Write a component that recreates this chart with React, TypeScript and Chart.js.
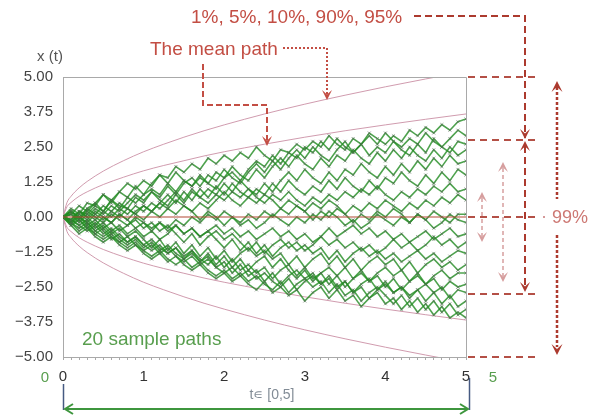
import React, { useEffect, useRef } from "react";
import { Chart, registerables } from "chart.js";

Chart.register(...registerables);

// ---------- data ----------
const TIMES = [
  0, 0.1, 0.2, 0.3, 0.4, 0.5, 0.6, 0.7, 0.8, 0.9, 1.0,
  1.1, 1.2, 1.3, 1.4, 1.5, 1.6, 1.7, 1.8, 1.9, 2.0,
  2.1, 2.2, 2.3, 2.4, 2.5, 2.6, 2.7, 2.8, 2.9, 3.0,
  3.1, 3.2, 3.3, 3.4, 3.5, 3.6, 3.7, 3.8, 3.9, 4.0,
  4.1, 4.2, 4.3, 4.4, 4.5, 4.6, 4.7, 4.8, 4.9, 5.0,
];

const PATH_01 = [0, .3, .1, .5, .4, .8, .6, .9, 1.2, 1.0, 1.3, 1.1, 1.5, 1.4, 1.8, 1.6, 1.9, 1.7, 2.1, 1.9, 2.2, 2.0, 2.3, 2.1, 2.5, 2.2, 2.0, 2.4, 2.3, 2.6, 2.4, 2.7, 2.5, 2.9, 2.6, 2.4, 2.8, 2.6, 3.0, 2.8, 2.6, 2.9, 2.7, 3.1, 2.9, 3.2, 3.0, 3.3, 3.1, 3.4, 3.5];
const PATH_02 = [0, -.2, .2, .1, .4, .2, .6, .3, .7, .5, .8, 1.0, .8, 1.2, .9, 1.3, 1.1, 1.5, 1.2, 1.0, 1.4, 1.6, 1.3, 1.7, 2.0, 1.8, 2.2, 1.9, 2.3, 2.1, 2.5, 2.3, 2.7, 2.4, 2.8, 2.5, 2.3, 2.6, 2.9, 2.6, 3.0, 2.7, 2.5, 2.8, 2.6, 3.0, 2.7, 2.5, 2.8, 3.1, 2.9];
const PATH_03 = [0, .2, -.1, .3, .5, .2, .6, .4, .3, .7, .5, .9, .7, 1.1, .8, 1.2, 1.4, 1.1, 1.5, 1.3, 1.7, 1.4, 1.2, 1.6, 1.9, 1.6, 2.0, 1.7, 2.1, 2.4, 2.1, 2.5, 2.2, 2.0, 2.4, 2.7, 2.3, 2.6, 2.2, 2.5, 2.3, 2.7, 2.4, 2.2, 2.6, 2.3, 2.8, 2.5, 2.3, 2.7, 2.6];
const PATH_04 = [0, .1, .4, .2, .5, .8, .5, .9, .7, 1.1, .8, 1.2, 1.5, 1.2, 1.6, 1.3, 1.1, 1.4, 1.2, 1.6, 1.4, 1.8, 1.5, 1.3, 1.7, 1.4, 1.8, 2.1, 1.8, 2.2, 1.9, 1.7, 2.1, 1.8, 2.2, 2.0, 2.4, 2.1, 1.9, 2.3, 2.0, 2.4, 2.1, 2.5, 2.2, 2.0, 2.4, 2.1, 2.5, 2.2, 2.4];
const PATH_05 = [0, -.1, .2, 0, .3, .1, .4, .2, .5, .8, .6, .9, .6, .4, .8, .5, .9, .7, 1.0, .8, 1.2, .9, 1.3, 1.0, .8, 1.2, .9, 1.3, 1.6, 1.3, 1.7, 1.4, 1.2, 1.6, 1.3, 1.7, 1.5, 1.9, 1.6, 1.4, 1.8, 1.5, 1.9, 1.6, 2.0, 1.7, 2.1, 1.8, 2.2, 1.9, 2.0];
const PATH_06 = [0, .2, 0, .3, .1, .4, .2, .5, .3, .1, .4, .2, .5, .8, .5, .9, .6, 1.0, .7, 1.1, .8, 1.2, .9, .7, 1.0, .8, 1.2, .9, 1.3, 1.0, .8, 1.1, .9, 1.3, 1.0, 1.4, 1.1, .9, 1.3, 1.0, 1.4, 1.2, 1.6, 1.3, 1.1, 1.5, 1.2, 1.6, 1.3, 1.7, 1.5];
const PATH_07 = [0, .1, -.2, .1, -.1, .2, 0, .3, .1, .4, .2, .5, .3, .6, .9, .6, 1.0, .7, .5, .8, .6, .9, .7, 1.0, .7, .5, .8, .6, .9, .6, .4, .7, .5, .8, .6, .9, .7, 1.0, .8, 1.1, .8, .6, .9, .7, 1.0, .8, 1.1, .9, 1.2, .9, 1.0];
const PATH_08 = [0, -.2, .1, -.1, .2, 0, -.2, .1, -.1, .2, .4, .2, .5, .3, .6, .4, .2, .5, .3, .6, .9, .6, .4, .7, .5, .8, .6, .3, .6, .4, .2, .5, .3, .6, .4, .1, .4, .2, .5, .3, .6, .4, .2, .5, .3, .6, .4, .7, .5, .8, .6];
const PATH_09 = [0, .2, 0, -.2, .1, -.1, .2, 0, .3, .1, -.1, .2, 0, .3, .1, .4, .2, -.1, .2, 0, -.3, 0, -.2, .1, -.1, .2, 0, .3, .1, .4, .2, -.1, .2, 0, .3, .1, -.2, .1, -.1, .2, 0, .3, .1, -.2, .1, -.1, .2, 0, -.2, .1, .1];
const PATH_10 = [0, -.1, .2, 0, -.3, 0, -.2, .1, -.1, -.4, -.2, -.5, -.2, -.4, -.1, -.3, 0, -.2, .1, -.1, .2, 0, -.3, -.1, -.4, -.2, .1, -.1, -.3, 0, -.2, .1, -.1, .2, 0, -.3, -.1, -.4, -.2, .1, -.1, -.3, 0, -.2, .1, -.1, -.4, -.2, .1, -.1, -.2];
const PATH_11 = [0, .1, -.1, .2, 0, -.2, .1, -.1, -.3, 0, -.2, -.4, -.2, -.5, -.3, -.6, -.4, -.7, -.5, -.3, -.6, -.4, -.7, -.5, -.8, -.6, -.4, -.7, -.5, -.8, -.6, -.9, -.7, -.4, -.7, -.5, -.3, -.6, -.4, -.7, -.5, -.8, -.6, -.9, -.7, -.5, -.8, -.6, -.4, -.7, -.6];
const PATH_12 = [0, -.2, 0, -.3, -.1, -.4, -.2, -.5, -.3, -.1, -.4, -.2, -.5, -.3, -.6, -.9, -.6, -1.0, -.7, -.5, -.8, -.6, -.9, -1.2, -.9, -1.3, -1.0, -.8, -1.1, -.9, -1.2, -1.0, -.7, -1.0, -.8, -1.1, -.9, -1.2, -1.0, -1.3, -1.1, -.8, -1.1, -.9, -1.2, -1.0, -.7, -1.0, -.8, -1.1, -.9];
const PATH_13 = [0, -.1, -.3, -.1, -.4, -.2, -.5, -.3, -.6, -.4, -.7, -.5, -.8, -.6, -.3, -.6, -.4, -.7, -.5, -.8, -1.1, -.8, -1.2, -.9, -1.3, -1.0, -1.4, -1.1, -.9, -1.2, -1.0, -1.3, -1.1, -1.5, -1.2, -1.6, -1.3, -1.1, -1.4, -1.2, -1.5, -1.3, -1.6, -1.4, -1.2, -1.5, -1.3, -1.6, -1.4, -1.2, -1.3];
const PATH_14 = [0, .2, 0, -.2, -.5, -.3, -.6, -.4, -.7, -.5, -.8, -1.1, -.8, -1.2, -.9, -1.3, -1.0, -1.4, -1.1, -1.5, -1.2, -1.6, -1.3, -1.1, -1.4, -1.2, -1.5, -1.3, -1.7, -1.4, -1.8, -1.5, -1.3, -1.7, -1.4, -1.8, -1.5, -1.9, -1.6, -1.4, -1.7, -1.5, -1.9, -1.6, -2.0, -1.7, -1.5, -1.8, -1.6, -1.9, -1.7];
const PATH_15 = [0, -.2, -.4, -.2, -.5, -.7, -.5, -.8, -1.0, -.8, -1.1, -.9, -1.2, -1.0, -1.3, -1.5, -1.2, -1.6, -1.3, -1.7, -1.4, -1.8, -1.5, -1.9, -1.6, -1.4, -1.8, -1.5, -1.9, -2.2, -1.9, -2.3, -2.0, -1.8, -2.1, -1.8, -2.2, -1.9, -2.3, -2.0, -1.8, -2.1, -1.9, -2.3, -2.0, -2.4, -2.1, -1.9, -2.2, -2.0, -2.0];
const PATH_16 = [0, -.1, -.3, -.5, -.3, -.6, -.4, -.7, -.9, -.7, -1.0, -.8, -1.1, -1.3, -1.1, -1.4, -1.2, -1.5, -1.7, -1.4, -1.8, -1.5, -1.9, -1.7, -2.0, -1.8, -2.2, -1.9, -1.7, -2.1, -1.8, -2.2, -2.0, -2.4, -2.1, -2.5, -2.2, -2.0, -2.3, -2.1, -2.5, -2.2, -2.6, -2.3, -2.1, -2.4, -2.2, -2.6, -2.3, -2.5, -2.4];
const PATH_17 = [0, -.2, -.1, -.4, -.2, -.5, -.8, -.6, -.9, -.7, -1.0, -1.2, -1.0, -1.3, -1.1, -1.5, -1.3, -1.6, -1.4, -1.8, -1.6, -2.0, -1.7, -2.1, -1.9, -2.3, -2.0, -2.4, -2.1, -1.9, -2.2, -2.0, -2.4, -2.1, -2.5, -2.3, -2.7, -2.4, -2.2, -2.6, -2.3, -2.7, -2.5, -2.8, -2.6, -2.4, -2.7, -2.5, -2.9, -2.6, -2.7];
const PATH_18 = [0, -.3, -.1, -.4, -.6, -.4, -.7, -.9, -.7, -1.0, -1.2, -1.0, -1.3, -1.1, -1.4, -1.6, -1.4, -1.7, -1.5, -1.8, -2.0, -1.8, -2.1, -1.9, -2.2, -2.0, -2.3, -2.5, -2.2, -2.6, -2.3, -2.1, -2.4, -2.2, -2.6, -2.3, -2.7, -2.5, -2.9, -2.6, -2.4, -2.7, -2.5, -2.9, -2.6, -3.0, -2.7, -3.1, -2.8, -3.2, -3.0];
const PATH_19 = [0, -.2, -.5, -.3, -.6, -.8, -.6, -.9, -1.1, -.9, -1.2, -1.4, -1.2, -1.5, -1.7, -1.5, -1.8, -1.6, -1.9, -2.1, -1.9, -2.2, -2.0, -2.3, -2.1, -2.4, -2.6, -2.3, -2.7, -2.4, -2.2, -2.5, -2.3, -2.7, -2.4, -2.8, -2.6, -3.0, -2.7, -2.5, -2.8, -3.1, -2.8, -3.2, -2.9, -3.3, -3.0, -3.4, -3.1, -3.5, -3.3];
const PATH_20 = [0, -.3, -.6, -.4, -.7, -.9, -.7, -1.0, -1.2, -1.0, -1.3, -1.5, -1.3, -1.6, -1.4, -1.7, -1.9, -1.7, -2.0, -2.2, -2.0, -2.3, -2.1, -2.4, -2.6, -2.3, -2.7, -2.5, -2.8, -2.6, -3.0, -2.7, -2.5, -2.9, -2.6, -3.0, -2.8, -3.2, -2.9, -2.7, -3.1, -2.9, -3.3, -3.0, -3.4, -3.1, -3.5, -3.2, -3.6, -3.4, -3.6];

const SAMPLE_PATHS = [
  PATH_01, PATH_02, PATH_03, PATH_04, PATH_05, PATH_06, PATH_07, PATH_08, PATH_09, PATH_10,
  PATH_11, PATH_12, PATH_13, PATH_14, PATH_15, PATH_16, PATH_17, PATH_18, PATH_19, PATH_20,
];

// percentile envelopes (outer = 1%/99%, inner = 5%/95%)
const CURVE_T = [0, 0.05, 0.1, 0.2, 0.3, 0.5, 0.75, 1, 1.25, 1.5, 1.75, 2, 2.5, 3, 3.5, 4, 4.5, 5];
const Q99 = [0, 0.52, 0.74, 1.04, 1.27, 1.64, 2.01, 2.33, 2.60, 2.85, 3.08, 3.29, 3.68, 4.03, 4.35, 4.65, 4.93, 5.20];
const Q95 = [0, 0.37, 0.52, 0.74, 0.90, 1.16, 1.42, 1.65, 1.84, 2.01, 2.18, 2.33, 2.60, 2.85, 3.08, 3.29, 3.49, 3.68];
const Q05 = [0, -0.37, -0.52, -0.74, -0.90, -1.16, -1.42, -1.65, -1.84, -2.01, -2.18, -2.33, -2.60, -2.85, -3.08, -3.29, -3.49, -3.68];
const Q01 = [0, -0.52, -0.74, -1.04, -1.27, -1.64, -2.01, -2.33, -2.60, -2.85, -3.08, -3.29, -3.68, -4.03, -4.35, -4.65, -4.93, -5.20];

const MEAN_T = [0, 5];
const MEAN_X = [0, 0];

const Y_TICKS = [-5, -3.75, -2.5, -1.25, 0, 1.25, 2.5, 3.75, 5];
// reference levels marked by dashed guides on the right
const GUIDE_LEVELS = [5, 2.75, 0, -2.75, -5];

// ---------- styles ----------
const FONT = "'Liberation Sans', Arial, Helvetica, sans-serif";
const RED = "rgb(195,78,68)";
const DARKRED = "rgb(172,58,46)";
const PINK = "rgb(214,158,158)";
const GREEN_TEXT = "rgb(88,158,78)";
const PATH_GREEN = "rgba(34,140,34,0.8)";
const CURVE_COLOR = "rgba(205,150,170,0.95)";
const FRAME = "#a9a9a9";

function toXY(xs: number[], ys: number[]) {
  return xs.map((x, i) => ({ x, y: ys[i] }));
}

function head(ctx: CanvasRenderingContext2D, x: number, y: number, angle: number, color: string, len = 10, half = 5) {
  ctx.save();
  ctx.translate(x, y);
  ctx.rotate(angle);
  ctx.beginPath();
  ctx.moveTo(0, 0);
  ctx.lineTo(-len, -half);
  ctx.lineTo(-len * 0.55, 0);
  ctx.lineTo(-len, half);
  ctx.closePath();
  ctx.fillStyle = color;
  ctx.fill();
  ctx.restore();
}

function poly(ctx: CanvasRenderingContext2D, pts: number[][], color: string, width: number, dash: number[]) {
  ctx.save();
  ctx.beginPath();
  ctx.moveTo(pts[0][0], pts[0][1]);
  for (let i = 1; i < pts.length; i++) ctx.lineTo(pts[i][0], pts[i][1]);
  ctx.strokeStyle = color;
  ctx.lineWidth = width;
  ctx.setLineDash(dash);
  ctx.stroke();
  ctx.restore();
}

function text(ctx: CanvasRenderingContext2D, s: string, x: number, y: number, size: number, color: string, align: CanvasTextAlign = "left") {
  ctx.save();
  ctx.font = `${size}px ${FONT}`;
  ctx.fillStyle = color;
  ctx.textAlign = align;
  ctx.textBaseline = "middle";
  ctx.fillText(s, x, y);
  ctx.restore();
}

const DOWN = Math.PI / 2;
const UP = -Math.PI / 2;

const annotations = {
  id: "annotations",
  afterDraw(chart: any) {
    const ctx: CanvasRenderingContext2D = chart.ctx;
    const { left, right, top, bottom } = chart.chartArea;
    const ys = chart.scales.y;

    // frame top / right
    poly(ctx, [[left, top + 0.5], [right + 0.5, top + 0.5], [right + 0.5, bottom]], FRAME, 1, []);

    // y-axis title
    text(ctx, "x (t)", 50, 57, 15, "#555", "center");

    // top labels
    text(ctx, "1%, 5%, 10%, 90%, 95%", 191, 18, 19, RED);
    text(ctx, "The mean path", 150, 50, 19, RED);

    const yL = GUIDE_LEVELS.map((v) => ys.getPixelForValue(v));

    // "1%..." dashed connector
    poly(ctx, [[414, 16], [525, 16], [525, yL[1] - 2]], DARKRED, 2, [7, 4]);
    head(ctx, 525, yL[1] - 1, DOWN, DARKRED);
    // double arrow 90%-10%
    poly(ctx, [[525, yL[1] + 6], [525, yL[3] - 6]], DARKRED, 2, [7, 4]);
    head(ctx, 525, yL[1] + 1, UP, DARKRED);
    head(ctx, 525, yL[3] - 2, DOWN, DARKRED);

    // mean path dotted connector
    poly(ctx, [[283, 48], [327, 48], [327, 94]], RED, 2, [2, 2]);
    head(ctx, 327, 100, DOWN, RED);
    // mean path dashed connector
    poly(ctx, [[203, 64], [203, 105], [267, 105], [267, 140]], RED, 2, [6, 3]);
    head(ctx, 267, 146, DOWN, RED);

    // right guide lines
    [0, 1, 3, 4].forEach((i) => {
      poly(ctx, [[right + 2, yL[i]], [537, yL[i]]], "rgb(180,80,70)", 2, [7, 5]);
    });
    poly(ctx, [[right + 2, yL[2]], [540, yL[2]]], "rgb(180,80,70)", 2, [7, 5]);
    poly(ctx, [[543, yL[2]], [547, yL[2]]], "rgb(200,120,120)", 1.5, [2, 2]);
    text(ctx, "99%", 552, yL[2] + 1, 18, "rgb(205,120,115)");

    // big 99% double arrow
    poly(ctx, [[557, yL[0] + 10], [557, yL[2] - 18]], DARKRED, 2.5, [3, 2]);
    poly(ctx, [[557, yL[2] + 18], [557, yL[4] - 10]], DARKRED, 2.5, [3, 2]);
    head(ctx, 557, yL[0] + 4, UP, DARKRED, 11, 5.5);
    head(ctx, 557, yL[4] - 2, DOWN, DARKRED, 11, 5.5);

    // pink arrows
    poly(ctx, [[503, 168], [503, 276]], PINK, 1.5, [4, 3]);
    head(ctx, 503, 162, UP, PINK, 10, 5);
    head(ctx, 503, 282, DOWN, PINK, 10, 5);
    poly(ctx, [[482, 198], [482, 236]], PINK, 1.5, [4, 3]);
    head(ctx, 482, 192, UP, PINK, 10, 5);
    head(ctx, 482, 242, DOWN, PINK, 10, 5);

    // sample paths caption
    text(ctx, "20 sample paths", 82, 340, 19, GREEN_TEXT);

    // bottom time interval marker
    text(ctx, "0", 45, 378, 15, GREEN_TEXT, "center");
    text(ctx, "5", 493, 378, 15, GREEN_TEXT, "center");
    poly(ctx, [[left + 0.5, 384], [left + 0.5, 410]], "rgb(70,90,130)", 1.5, []);
    poly(ctx, [[right + 3.5, 378], [right + 3.5, 410]], "rgb(70,90,130)", 1.5, []);
    poly(ctx, [[left + 2, 409], [right + 2, 409]], "rgb(62,150,62)", 2, []);
    poly(ctx, [[left + 10, 404], [left + 2, 409], [left + 10, 414]], "rgb(62,150,62)", 2, []);
    poly(ctx, [[right - 6, 404], [right + 2, 409], [right - 6, 414]], "rgb(62,150,62)", 2, []);
    text(ctx, "t\u220A [0,5]", 272, 395, 14, "rgb(130,140,150)", "center");
  },
};

export default function App() {
  const ref = useRef<HTMLCanvasElement | null>(null);

  useEffect(() => {
    if (!ref.current) return;
    Chart.defaults.font.family = FONT;

    const pathSets = SAMPLE_PATHS.map((p, i) => ({
      label: `path ${i + 1}`,
      data: toXY(TIMES, p),
      borderColor: PATH_GREEN,
      borderWidth: 1.6,
      pointRadius: 2.2,
      pointStyle: "crossRot",
      pointBorderColor: "rgba(90,100,90,0.55)",
      pointBorderWidth: 1,
    }));

    const curveSet = (label: string, ys: number[]) => ({
      label,
      data: toXY(CURVE_T, ys),
      borderColor: CURVE_COLOR,
      borderWidth: 1,
      pointRadius: 0,
      cubicInterpolationMode: "monotone",
    });

    const chart = new Chart(ref.current, {
      type: "line",
      data: {
        datasets: [
          {
            label: "mean",
            data: toXY(MEAN_T, MEAN_X),
            borderColor: "rgb(178,72,52)",
            borderWidth: 1.2,
            pointRadius: 0,
          },
          ...pathSets,
          curveSet("99%", Q99),
          curveSet("95%", Q95),
          curveSet("5%", Q05),
          curveSet("1%", Q01),
        ] as any,
      },
      options: {
        animation: false,
        responsive: true,
        maintainAspectRatio: false,
        devicePixelRatio: 1,
        layout: { padding: { top: 77, right: 124, left: 0, bottom: 0 } },
        plugins: { legend: { display: false }, tooltip: { enabled: false } },
        elements: { line: { tension: 0 } },
        scales: {
          x: {
            type: "linear",
            min: 0,
            max: 5,
            afterFit: (s: any) => {
              s.height = 61;
            },
            afterBuildTicks: (s: any) => {
              s.ticks = TIMES.map((v) => ({ value: v }));
            },
            border: { color: FRAME, width: 1 },
            grid: { drawOnChartArea: false, drawTicks: true, tickLength: 3, color: FRAME },
            ticks: {
              autoSkip: false,
              maxRotation: 0,
              padding: 8,
              color: "#333",
              font: { size: 15 },
              callback: (v: any) => {
                const n = Number(v);
                return Math.abs(n - Math.round(n)) < 1e-6 ? String(Math.round(n)) : "";
              },
            },
          },
          y: {
            type: "linear",
            min: -5,
            max: 5,
            afterFit: (s: any) => {
              s.width = 63;
            },
            afterBuildTicks: (s: any) => {
              s.ticks = Y_TICKS.map((v) => ({ value: v }));
            },
            border: { color: FRAME, width: 1 },
            grid: { drawOnChartArea: false, drawTicks: false },
            ticks: {
              padding: 10,
              color: "#444",
              font: { size: 15 },
              callback: (v: any) => Number(v).toFixed(2).replace("-", "\u2212"),
            },
          },
        },
      } as any,
      plugins: [annotations],
    });

    return () => chart.destroy();
  }, []);

  return (
    <div style={{ position: "fixed", left: 0, top: 0, width: 590, height: 418, background: "#fff" }}>
      <canvas ref={ref} />
    </div>
  );
}
